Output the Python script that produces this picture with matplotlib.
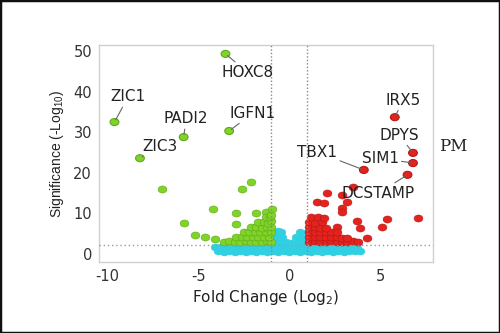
import matplotlib
matplotlib.use("Agg")
import matplotlib.pyplot as plt
from matplotlib.patches import Rectangle
from matplotlib.path import Path
from matplotlib.transforms import Affine2D

plt.rcParams['font.family'] = ['DejaVu Sans']
plt.rcParams['mathtext.default'] = 'regular'
plt.rcParams['axes.unicode_minus'] = False

# ---- data ----
# labelled genes
genes = ["HOXC8", "ZIC1", "PADI2", "IGFN1", "ZIC3",
         "IRX5", "DPYS", "SIM1", "TBX1", "DCSTAMP"]
gene_fc = [-3.5, -9.6, -5.8, -3.3, -8.2, 5.8, 6.8, 6.8, 4.1, 6.5]
gene_sig = [49.3, 32.5, 28.8, 30.3, 23.6, 33.7, 24.9, 22.4, 20.7, 19.5]
label_fc = [-2.3, -8.85, -5.66, -2.0, -7.1, 6.26, 6.04, 5.0, 1.54, 4.9]
label_sig = [44.8, 38.7, 33.3, 34.7, 26.6, 37.9, 29.3, 23.6, 25.1, 15.0]

# down-regulated (green) genes
down_fc = [-7.0, -4.2, -5.8, -5.2, -4.6, -4.1, -2.6, -2.1, -2.9, -1.8, -1.3, -0.95, -2.9,
           -3.6, -3.3, -3.0, -2.7, -2.4, -2.1, -1.8, -1.5, -1.2, -1.0,
           -2.9, -2.6, -2.3, -2.0, -1.7, -1.4, -1.1,
           -2.5, -2.2, -1.9, -1.6, -1.3, -1.0,
           -2.1, -1.8, -1.5, -1.2, -1.0,
           -1.7, -1.4, -1.15, -1.0,
           -1.3, -1.05, -1.0]
down_sig = [16.0, 11.1, 7.6, 4.7, 4.2, 3.7, 16.0, 17.7, 10.1, 10.1, 10.3, 11.1, 7.4,
            3.0, 3.1, 2.9, 3.0, 3.1, 3.0, 2.9, 3.0, 3.1, 3.0,
            4.1, 4.2, 4.3, 4.2, 4.1, 4.3, 4.2,
            5.4, 5.5, 5.3, 5.4, 5.5, 5.4,
            6.6, 6.7, 6.5, 6.6, 6.7,
            7.8, 7.9, 7.7, 8.0,
            9.0, 9.1, 9.5]

# up-regulated (red) genes
up_fc = [2.1, 1.5, 1.9, 2.9, 3.2, 2.9, 2.9, 3.5, 3.7, 3.9, 5.4, 5.1, 7.1, 4.3, 2.6,
         1.1, 1.4, 1.7, 2.0, 2.3, 2.6, 2.9, 3.2, 3.5, 3.8,
         1.1, 1.4, 1.7, 2.0, 2.3, 2.6, 2.9, 3.2,
         1.1, 1.4, 1.7, 2.0, 2.3, 2.6,
         1.1, 1.4, 1.7, 2.0,
         1.1, 1.4, 1.8,
         1.2, 1.6, 1.9]
up_sig = [15.0, 12.8, 12.5, 14.5, 12.8, 11.3, 10.3, 16.5, 8.1, 6.4, 8.6, 6.7, 8.9, 3.9, 6.7,
          3.0, 3.1, 2.9, 3.0, 3.1, 3.0, 2.9, 3.0, 3.1, 2.9,
          4.2, 4.1, 4.3, 4.2, 4.1, 4.2, 4.0, 3.9,
          5.4, 5.5, 5.3, 5.4, 5.5, 5.3,
          6.6, 6.7, 6.5, 6.4,
          7.8, 7.7, 7.9,
          9.0, 9.1, 8.8]

# not significant (cyan) genes
ns_fc = [-3.9, -3.6, -3.3, -3.0, -2.7, -2.4, -2.1, -1.8, -1.5, -1.2, -0.9, -0.6, -0.3,
         0.0, 0.3, 0.6, 0.9, 1.2, 1.5, 1.8, 2.1, 2.4, 2.7, 3.0, 3.3, 3.6, 3.9,
         -4.1, -3.8, -3.5, -3.2, -2.9, -2.6, -2.3, -2.0, -1.7, -1.4, -1.1, -0.8, -0.5,
         -0.2, 0.1, 0.4, 0.7, 1.0, 1.3, 1.6, 1.9, 2.2, 2.5, 2.8, 3.1, 3.4, 3.7,
         -0.9, -0.6, -0.35, -0.9, -0.6, -0.4, -0.85, -0.6, -0.45,
         -0.15, 0.15, 0.35, 0.35, 0.6, 0.6, 0.6, 0.85, 0.85, 0.85]
ns_sig = [0.7, 0.6, 0.7, 0.6, 0.7, 0.6, 0.7, 0.6, 0.7, 0.6, 0.7, 0.6, 0.7,
          0.6, 0.7, 0.6, 0.7, 0.6, 0.7, 0.6, 0.7, 0.6, 0.7, 0.6, 0.7, 0.7, 0.8,
          1.6, 1.8, 1.7, 1.8, 1.7, 1.8, 1.7, 1.8, 1.7, 1.8, 1.7, 1.8, 1.7,
          1.8, 1.7, 1.8, 1.7, 1.8, 1.7, 1.8, 1.7, 1.8, 1.7, 1.8, 1.7, 1.6, 1.5,
          3.0, 3.1, 3.0, 4.2, 4.3, 4.1, 5.4, 5.6, 5.3,
          2.9, 2.8, 3.3, 4.3, 3.0, 4.2, 5.5, 3.0, 4.2, 5.1]

fc_cut = [-1, 1]
sig_cut = 2.3
x_ticks = [-10, -5, 0, 5]
y_ticks = [0, 10, 20, 30, 40, 50]

# ---- style ----
GREEN, GREEN_E = '#80d428', '#5ea81c'
RED, RED_E = '#e3231d', '#b81616'
CYAN, CYAN_E = '#30d0e2', '#30d0e2'

# slightly wide elliptical marker (picture is stretched horizontally)
ELL = Path.unit_circle().transformed(Affine2D().scale(1.25, 1.0))
MS = 40

fig = plt.figure(figsize=(5.0, 3.33), dpi=100)
ax = fig.add_axes([0.198, 0.213, 0.668, 0.652])

ax.scatter(ns_fc, ns_sig, s=MS, marker=ELL, c=CYAN, edgecolors=CYAN_E, linewidths=0.3, zorder=2)
ax.scatter(down_fc, down_sig, s=MS, marker=ELL, c=GREEN, edgecolors=GREEN_E, linewidths=0.4, zorder=3)
ax.scatter(up_fc, up_sig, s=MS, marker=ELL, c=RED, edgecolors=RED_E, linewidths=0.4, zorder=3)

gcols = [GREEN if f < 0 else RED for f in gene_fc]
gedges = [GREEN_E if f < 0 else RED_E for f in gene_fc]
ax.scatter(gene_fc, gene_sig, s=MS, marker=ELL, c=gcols, edgecolors=gedges, linewidths=0.8, zorder=4)

for g, x, y, tx, ty in zip(genes, gene_fc, gene_sig, label_fc, label_sig):
    ax.annotate(g, xy=(x, y), xytext=(tx, ty), ha='center', va='center',
                fontsize=11, color='#222222', zorder=6,
                arrowprops=dict(arrowstyle='-', color='#666666', lw=0.8,
                                shrinkA=0, shrinkB=2))

for c in fc_cut:
    ax.axvline(c, color='#888888', lw=1.0, ls=(0, (1, 1.5)), zorder=5)
ax.axhline(sig_cut, color='#999999', lw=1.0, ls=(0, (1, 2)), zorder=5)

ax.set_xlim(-10.45, 7.9)
ax.set_ylim(-2.0, 51.5)
ax.set_xticks(x_ticks)
ax.set_yticks(y_ticks)
ax.tick_params(length=0, labelsize=10.5, labelcolor='#333333', pad=5)
for sp in ax.spines.values():
    sp.set_color('#d0d0d0')
    sp.set_linewidth(1.0)

ax.set_xlabel('Fold Change (Log$_2$)', fontsize=11, color='#222222', labelpad=3)
ax.set_ylabel('Significance (-Log$_{10}$)', fontsize=10, color='#222222', labelpad=5,
              family='Liberation Sans')

ax.text(9.0, 26.4, 'PM', fontsize=12, family='DejaVu Serif', color='#222222',
        ha='center', va='center', clip_on=False)

fig.patches.append(Rectangle((0, 0), 1, 1, transform=fig.transFigure, fill=False,
                             edgecolor='#111111', lw=2.5, zorder=10))

fig.savefig('out.png', dpi=100, facecolor='white')
